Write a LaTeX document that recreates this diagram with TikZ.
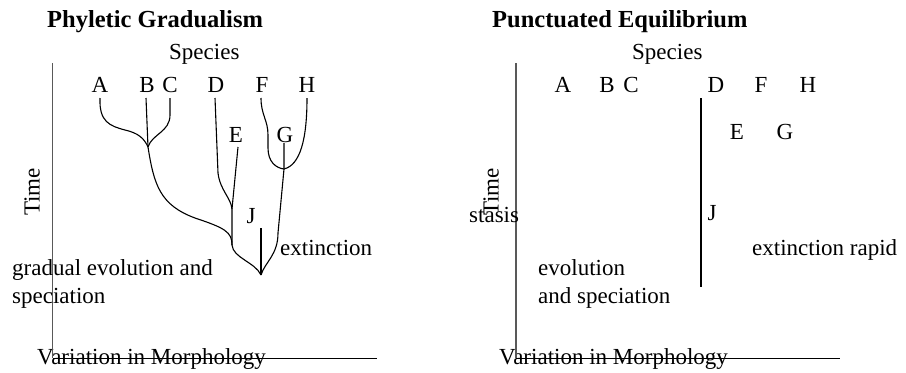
\documentclass[tikz,border=0pt]{standalone}
\usepackage{fontspec}
\setmainfont{Liberation Serif}
\begin{document}
\begin{tikzpicture}[x=1bp,y=-1bp,
  lbl/.style={inner sep=0pt,anchor=base,font=\fontsize{23bp}{27bp}\selectfont},
  lblw/.style={inner sep=0pt,anchor=base west,font=\fontsize{23bp}{27bp}\selectfont},
  ttl/.style={inner sep=0pt,anchor=base west,font=\fontsize{24.5bp}{29bp}\selectfont\bfseries},
  branch/.style={line width=1.1bp,black},
  yaxis/.style={line width=1.6bp,black!65},
  xaxis/.style={line width=1bp,black}]
\useasboundingbox (0,0) rectangle (906,372);

% ---------- left panel ----------
\node[ttl] (t1) at (47,27) {Phyletic Gradualism};
\node[lblw] (s1) at (169,59) {Species};
\node[lblw] (v1) at (37,364) {Variation in Morphology};
\coordinate (ly0) at (52.5,63);
\coordinate (lo) at (52.5,358);
\coordinate (lx1) at (377,358);
\draw[yaxis] (ly0) -- (lo);
\draw[xaxis] (lo) -- (lx1);
\node[lbl,rotate=90,anchor=center] (tm1) at (32,192) {Time};

\node[lbl] (A1) at (100,92) {A};
\node[lbl] (B1) at (147,92) {B};
\node[lbl] (C1) at (170,92) {C};
\node[lbl] (D1) at (216,92) {D};
\node[lbl] (F1) at (262,92) {F};
\node[lbl] (H1) at (307,92) {H};
\node[lbl] (E1) at (236,142) {E};
\node[lbl] (G1) at (285,142) {G};
\node[lbl] (J1) at (251,223) {J};
\node[lblw] (ex1) at (280,255) {extinction};
\node[lblw] (g1) at (12,275) {gradual evolution and};
\node[lblw] (g2) at (12,303) {speciation};

\coordinate (abc) at (148,147);
\coordinate (de) at (232,209);
\coordinate (trunk) at (232,245);
\coordinate (fgh) at (284,169);
\coordinate (root) at (261,275);

\draw[branch] (100,98) .. controls (99,122) and (110,126) .. (125,130)
   .. controls (138,133) and (144,138) .. (abc);
\draw[branch] (146,98) -- (abc);
\draw[branch] (170,98) -- (170,115) .. controls (170,132) and (152,134) .. (abc);
\draw[branch] (abc) .. controls (154,185) and (160,205) .. (195,218)
   .. controls (225,228) and (232,232) .. (trunk);
\draw[branch] (215,98) -- (218,173) .. controls (220,190) and (231,198) .. (de);
\draw[branch] (238,147) -- (de) -- (trunk);
\draw[branch] (trunk) .. controls (233,258) and (255,262) .. (root);
\draw[branch] (261,98) .. controls (261,115) and (268,120) .. (268,135) -- (268,148)
   .. controls (268,162) and (276,168) .. (fgh);
\draw[branch] (307,98) .. controls (307,140) and (300,165) .. (fgh);
\draw[branch] (284,143) -- (fgh) -- (278,233) .. controls (278,255) and (265,262) .. (root);
\draw[branch] (261,228) -- (root);

% ---------- right panel ----------
\node[ttl] (t2) at (492,27) {Punctuated Equilibrium};
\node[lblw] (s2) at (632,59) {Species};
\node[lblw] (v2) at (499,364) {Variation in Morphology};
\coordinate (ry0) at (516,63);
\coordinate (ro) at (516,358);
\coordinate (rx1) at (840,358);
\draw[yaxis] (ry0) -- (ro);
\draw[xaxis] (ro) -- (rx1);
\node[lbl,rotate=90,anchor=center] (tm2) at (491,192) {Time};
\node[lblw] (st) at (469,222) {stasis};

\node[lbl] (A2) at (563,92) {A};
\node[lbl] (B2) at (607,92) {B};
\node[lbl] (C2) at (631,92) {C};
\node[lbl] (D2) at (716,92) {D};
\node[lbl] (F2) at (761,92) {F};
\node[lbl] (H2) at (808,92) {H};
\node[lbl] (E2) at (737,139) {E};
\node[lbl] (G2) at (785,139) {G};
\node[lbl] (J2) at (712,220) {J};
\node[lblw] (ex2) at (752,255) {extinction rapid};
\node[lblw] (ev2) at (538,275) {evolution};
\node[lblw] (sp2) at (538,303) {and speciation};

\coordinate (rl0) at (701,98);
\coordinate (rl1) at (701,287);
\draw[line width=2bp] (rl0) -- (rl1);
\end{tikzpicture}
\end{document}
